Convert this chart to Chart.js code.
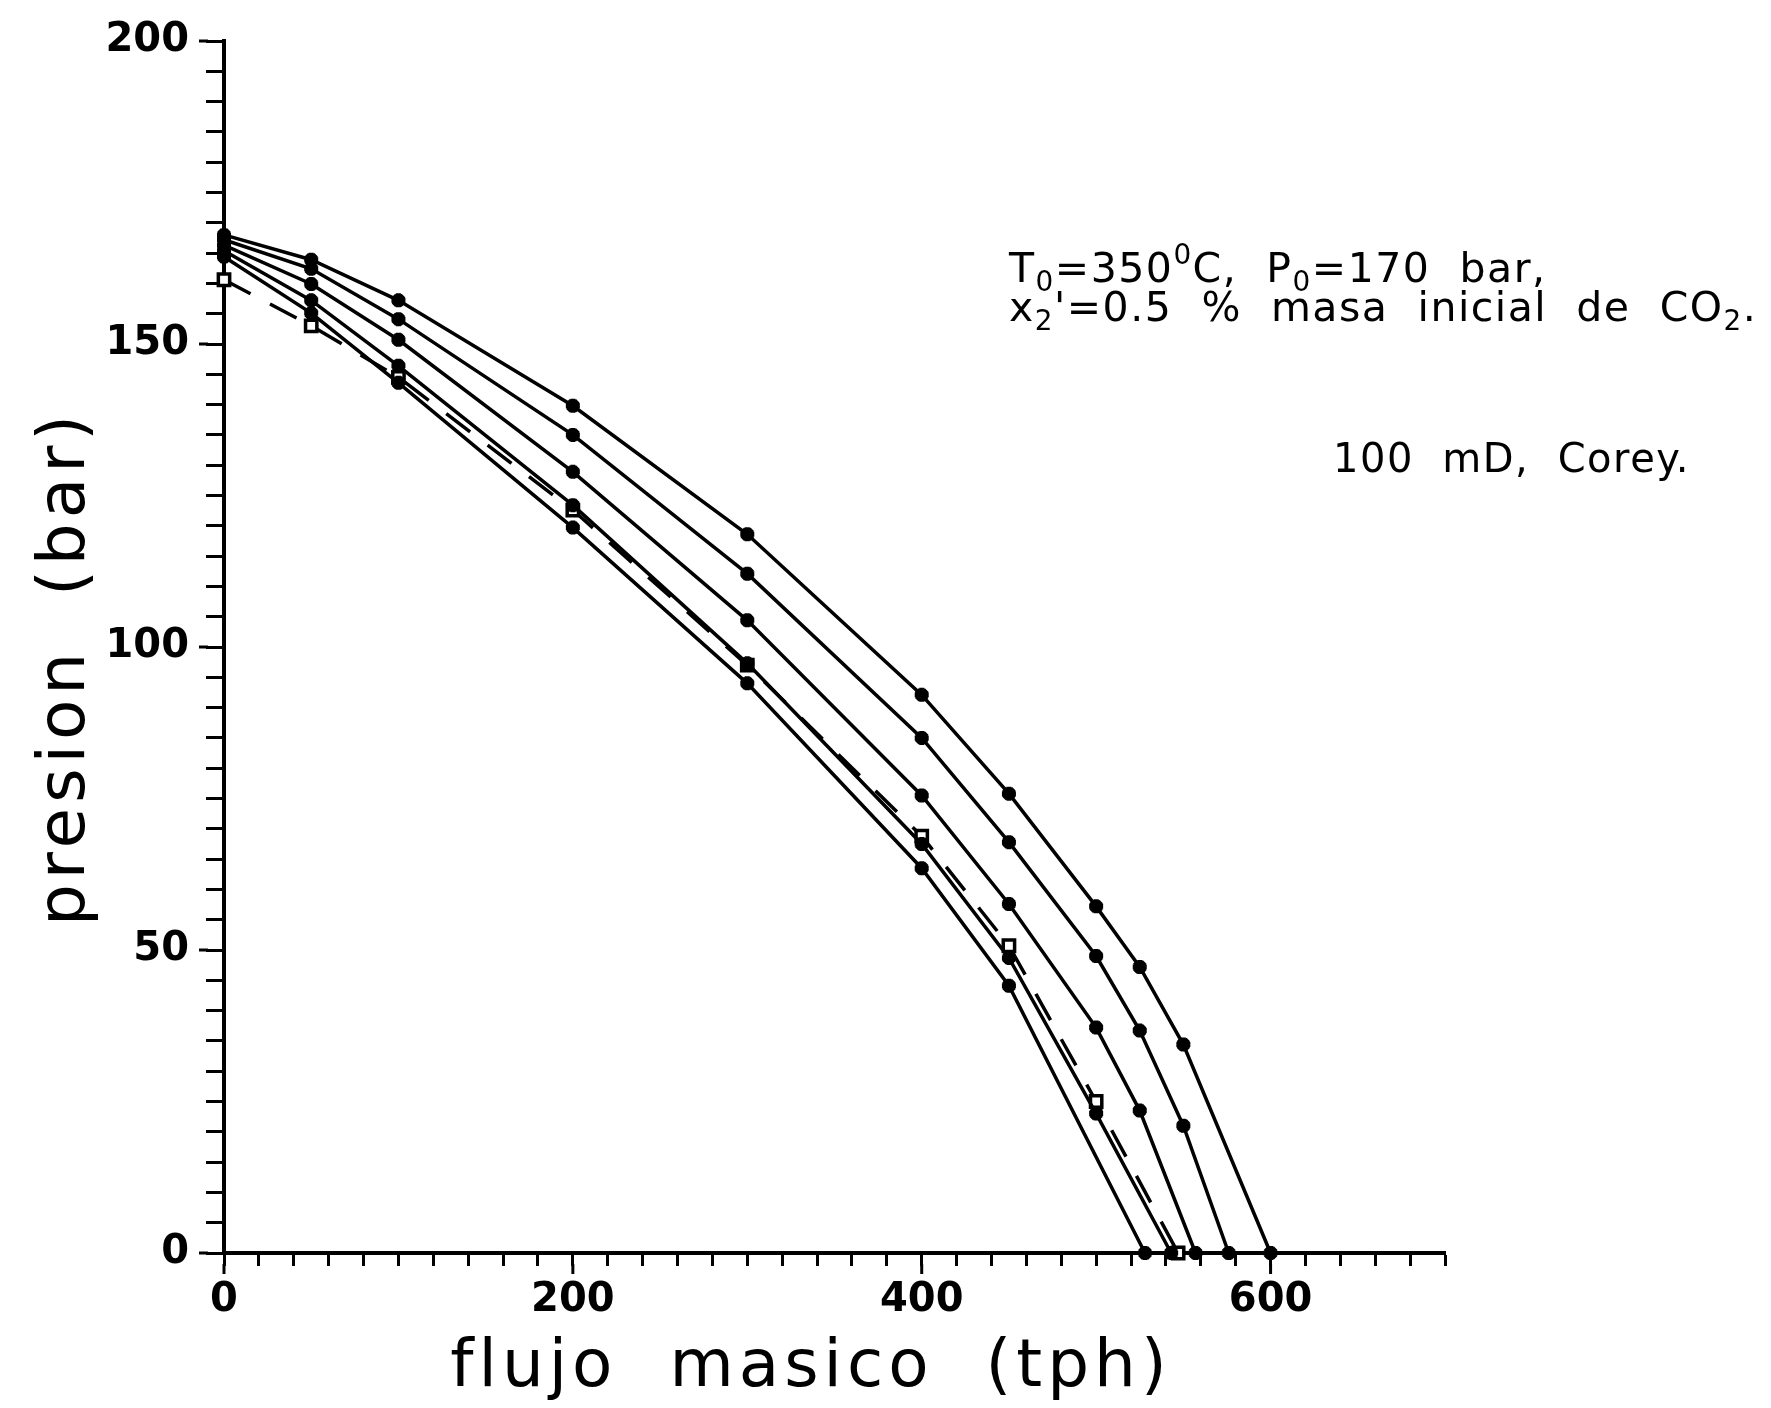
<!DOCTYPE html>
<html lang="es">
<head>
    <meta charset="UTF-8">
    <title>presion vs flujo masico</title>
    <script src="https://cdn.jsdelivr.net/npm/chart.js"></script>
    <style>
        html, body {
            margin: 0;
            padding: 0;
            background: #fff;
            overflow: hidden;
        }
        canvas { display: block; }
    </style>
</head>
<body>
    <canvas id="curvas" width="1771" height="1408"></canvas>

    <script>
        // flujo masico (tph) / presion (bar) for each curve
        const flujoA = [0, 50, 100, 200, 300, 400, 450, 500, 525, 550, 600];
        const presA  = [168.0, 163.9, 157.2, 139.8, 118.6, 92.1, 75.8, 57.2, 47.2, 34.4, 0];

        const flujoB = [0, 50, 100, 200, 300, 400, 450, 500, 525, 550, 576];
        const presB  = [167.2, 162.4, 154.1, 135.0, 112.1, 85.0, 67.8, 49.0, 36.7, 21.0, 0];

        const flujoC = [0, 50, 100, 200, 300, 400, 450, 500, 525, 557];
        const presC  = [166.3, 159.9, 150.7, 128.9, 104.4, 75.5, 57.6, 37.2, 23.5, 0];

        const flujoD = [0, 50, 100, 200, 300, 400, 450, 500, 543];
        const presD  = [165.4, 157.2, 146.4, 123.4, 97.3, 67.5, 48.7, 23.0, 0];

        const flujoE = [0, 50, 100, 200, 300, 400, 450, 528];
        const presE  = [164.4, 155.1, 143.6, 119.7, 94.0, 63.5, 44.1, 0];

        // dashed reference curve (open squares)
        const flujoRef = [0, 50, 100, 200, 300, 400, 450, 500, 547];
        const presRef  = [160.6, 153.0, 144.5, 122.6, 97.0, 68.8, 50.7, 25.0, 0];

        // axes
        const xMin = 0, xMax = 700, xMinorStep = 20;
        const yMin = 0, yMax = 200, yMinorStep = 5;
        const xTickLabels = [0, 200, 400, 600];
        const yTickLabels = [0, 50, 100, 150, 200];

        const toPoints = (xs, ys) => xs.map((x, i) => ({ x: x, y: ys[i] }));

        function solid(xs, ys) {
            return {
                data: toPoints(xs, ys),
                showLine: true,
                borderColor: '#000',
                borderWidth: 3.5,
                pointStyle: 'star',
                pointRadius: 7,
                pointBorderWidth: 5,
                pointBorderColor: '#000',
                pointBackgroundColor: '#000',
                clip: false
            };
        }

        const datasets = [
            solid(flujoA, presA),
            solid(flujoB, presB),
            solid(flujoC, presC),
            solid(flujoD, presD),
            solid(flujoE, presE),
            {
                data: toPoints(flujoRef, presRef),
                showLine: true,
                borderColor: '#000',
                borderWidth: 3.5,
                borderDash: [30, 22],
                pointStyle: 'rect',
                pointRadius: 8,
                pointBorderWidth: 3.5,
                pointBorderColor: '#000',
                pointBackgroundColor: '#fff',
                clip: false
            }
        ];

        function range(lo, hi, step) {
            const out = [];
            for (let v = lo; v <= hi; v += step) out.push(v);
            return out;
        }

        // draws text with sub/superscript pieces
        function drawRich(ctx, x, y, parts, size) {
            parts.forEach(p => {
                const text = Array.isArray(p) ? p[0] : p;
                const mode = Array.isArray(p) ? p[1] : '';
                const s = mode ? size * 0.68 : size;
                ctx.font = s + 'px "DejaVu Sans"';
                const dy = mode === 'sub' ? size * 0.22 : (mode === 'sup' ? -size * 0.45 : 0);
                ctx.fillText(text, x, y + dy);
                x += ctx.measureText(text).width;
            });
        }

        const decor = {
            id: 'decor',
            afterDraw(chart) {
                const ctx = chart.ctx;
                const xs = chart.scales.x, ys = chart.scales.y;
                const area = chart.chartArea;

                ctx.save();
                ctx.strokeStyle = '#000';
                ctx.lineWidth = 3;
                // longer marks on labelled ticks
                yTickLabels.forEach(v => {
                    const py = ys.getPixelForValue(v);
                    ctx.beginPath();
                    ctx.moveTo(area.left - 16, py);
                    ctx.lineTo(area.left - 25, py);
                    ctx.stroke();
                });
                xTickLabels.forEach(v => {
                    const px = xs.getPixelForValue(v);
                    ctx.beginPath();
                    ctx.moveTo(px, area.bottom + 11);
                    ctx.lineTo(px, area.bottom + 21);
                    ctx.stroke();
                });

                ctx.fillStyle = '#000';
                ctx.textAlign = 'center';
                ctx.textBaseline = 'alphabetic';
                ctx.letterSpacing = '5px';
                ctx.font = '66px "DejaVu Sans"';
                ctx.fillText('flujo  masico  (tph)', 811, 1386);

                ctx.save();
                ctx.translate(84, 668);
                ctx.rotate(-Math.PI / 2);
                ctx.fillText('presion  (bar)', 0, 0);
                ctx.restore();

                ctx.textAlign = 'left';
                ctx.letterSpacing = '1.5px';
                drawRich(ctx, 1009, 282,
                    ['T', ['0', 'sub'], '=350', ['0', 'sup'], 'C,  P', ['0', 'sub'], '=170  bar,'], 41);
                drawRich(ctx, 1009, 321,
                    ['x', ['2', 'sub'], "'=0.5  %  masa  inicial  de  CO", ['2', 'sub'], '.'], 41);
                drawRich(ctx, 1333, 472, ['100  mD,  Corey.'], 40);
                ctx.restore();
            }
        };

        const tickFont = { family: 'DejaVu Sans', size: 40, weight: 'bold' };

        new Chart(document.getElementById('curvas'), {
            type: 'scatter',
            data: { datasets: datasets },
            plugins: [decor],
            options: {
                responsive: false,
                animation: false,
                layout: { padding: { top: 37, right: 326, left: 0, bottom: 0 } },
                plugins: {
                    legend: { display: false },
                    tooltip: { enabled: false }
                },
                scales: {
                    x: {
                        type: 'linear',
                        min: xMin,
                        max: xMax,
                        afterFit: s => { s.height = 155; },
                        afterBuildTicks: s => {
                            s.ticks = range(xMin, xMax, xMinorStep).map(v => ({ value: v }));
                        },
                        border: { display: true, color: '#000', width: 4 },
                        grid: {
                            drawOnChartArea: false,
                            drawTicks: true,
                            tickLength: 13,
                            tickWidth: 3,
                            color: '#000'
                        },
                        ticks: {
                            autoSkip: false,
                            maxRotation: 0,
                            padding: 11,
                            color: '#000',
                            font: tickFont,
                            callback: v => xTickLabels.includes(v) ? String(v) : ''
                        }
                    },
                    y: {
                        type: 'linear',
                        min: yMin,
                        max: yMax,
                        afterFit: s => { s.width = 224; },
                        afterBuildTicks: s => {
                            s.ticks = range(yMin, yMax, yMinorStep).map(v => ({ value: v }));
                        },
                        border: { display: true, color: '#000', width: 4 },
                        grid: {
                            drawOnChartArea: false,
                            drawTicks: true,
                            tickLength: 18,
                            tickWidth: 3,
                            color: '#000'
                        },
                        ticks: {
                            autoSkip: false,
                            padding: 17,
                            color: '#000',
                            font: tickFont,
                            callback: v => yTickLabels.includes(v) ? String(v) : ''
                        }
                    }
                }
            }
        });
    </script>
</body>
</html>
